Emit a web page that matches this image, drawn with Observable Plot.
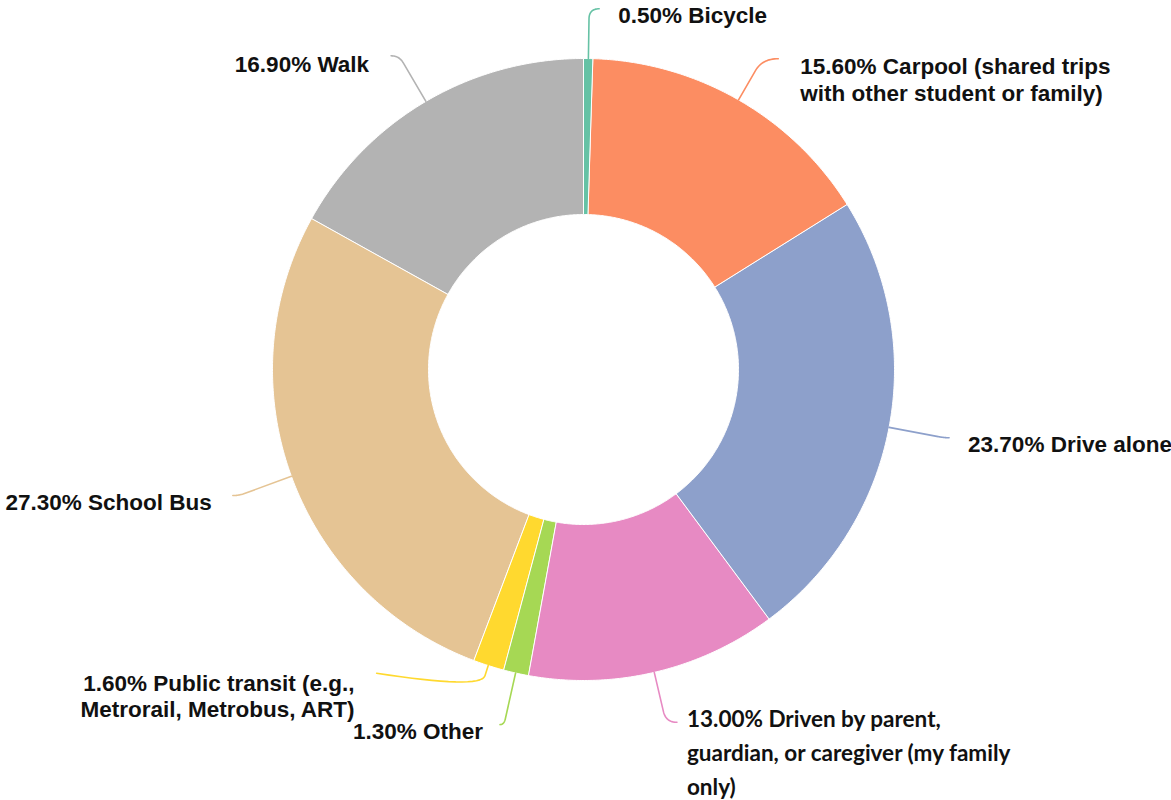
<!DOCTYPE html>
<html>
<head>
<meta charset="utf-8">
<script src="https://cdn.jsdelivr.net/npm/d3@7"></script>
<script src="https://cdn.jsdelivr.net/npm/@observablehq/plot@0.6"></script>
<style>
  html, body { margin: 0; padding: 0; background: #fff; }
  #chart svg { display: block; }
</style>
</head>
<body>
<div id="chart"></div>
<script>
// ---- data ----
const modes = ["Bicycle", "Carpool", "Drive alone", "Driven by parent", "Other", "Public transit", "School Bus", "Walk"];
const shares = [0.5, 15.6, 23.7, 13.0, 1.3, 1.6, 27.3, 16.9];
const labelText = [
  "0.50% Bicycle",
  "15.60% Carpool (shared trips\nwith other student or family)",
  "23.70% Drive alone",
  "13.00% Driven by parent,\nguardian, or caregiver (my family\nonly)",
  "1.30% Other",
  "1.60% Public transit (e.g.,\nMetrorail, Metrobus, ART)",
  "27.30% School Bus",
  "16.90% Walk"
];
const colors = ["#66c2a5", "#fc8d62", "#8da0cb", "#e78ac3", "#a6d854", "#ffd92f", "#e5c494", "#b3b3b3"];

// ---- layout ----
const W = 1171, H = 800;
const CX = 583, CY = 369, R = 311, R0 = 155;
const SANS = "Liberation Sans, Arial, Helvetica, sans-serif";
// leader layout: elbow radius factor, hook dx/dy, label gap, label y offset, font settings
const leaderLayout = [
  {er: 1.16,  hx: 10,   hy: 0,   gap: 19,  ly: 6,  font: SANS, fs: 22.5, lh: 27},
  {er: 1.153, hx: 16,   hy: 0,   gap: 22,  ly: 7,  font: SANS, fs: 22.5, lh: 27},
  {er: 1.18,  hx: 5,    hy: 0,   gap: 19,  ly: 6,  font: SANS, fs: 22.5, lh: 27},
  {er: 1.165, hx: 11,   hy: 0,   gap: 10,  ly: -6, font: "Lato, sans-serif", fs: 22.5, lh: 34},
  {er: 1.17,  hx: -4,   hy: 0,   gap: -17, ly: 6,  font: SANS, fs: 22.5, lh: 27},
  {er: 1.08,  hx: -104, hy: -16, gap: -22, ly: 9,  font: SANS, fs: 22.5, lh: 26},
  {er: 1.18,  hx: -6,   hy: 0,   gap: -21, ly: 6,  font: SANS, fs: 22.5, lh: 27},
  {er: 1.17,  hx: -8,   hy: 0,   gap: -22, ly: 8,  font: SANS, fs: 22.5, lh: 27}
];

const total = d3.sum(shares);
const pol = (a, r) => [CX + r * Math.sin(a), CY - r * Math.cos(a)];

// build slices from data
let acc = 0;
const slices = shares.map((v, i) => {
  const a0 = acc / total * 2 * Math.PI;
  acc += v;
  const a1 = acc / total * 2 * Math.PI;
  return {i, mode: modes[i], a0, a1, mid: (a0 + a1) / 2, color: colors[i]};
});

// wedge polygon points
const wedgePts = [];
for (const s of slices) {
  const n = Math.max(2, Math.ceil((s.a1 - s.a0) / (Math.PI / 360)));
  for (let k = 0; k <= n; k++) {
    const a = s.a0 + (s.a1 - s.a0) * k / n;
    const [x, y] = pol(a, R);
    wedgePts.push({mode: s.mode, x, y, color: s.color});
  }
  for (let k = n; k >= 0; k--) {
    const a = s.a0 + (s.a1 - s.a0) * k / n;
    const [x, y] = pol(a, R0);
    wedgePts.push({mode: s.mode, x, y, color: s.color});
  }
}

// leader lines (radial segment + rounded bend) and label anchors
const leaderPts = [];
const labels = [];
for (const s of slices) {
  const L = leaderLayout[s.i];
  const A = pol(s.mid, R);
  const E = pol(s.mid, R * L.er);
  const C = [E[0] + L.hx, E[1] + L.hy];
  const dA = Math.hypot(A[0] - E[0], A[1] - E[1]);
  const dC = Math.hypot(C[0] - E[0], C[1] - E[1]);
  const rad = Math.min(dA * 0.6, Math.max(dC, 6), 14);
  const P = [E[0] + (A[0] - E[0]) / dA * rad, E[1] + (A[1] - E[1]) / dA * rad];
  leaderPts.push({mode: s.mode, x: A[0], y: A[1], color: s.color});
  const m = 16;
  for (let k = 0; k <= m; k++) {
    const t = k / m, u = 1 - t;
    const x = u * u * P[0] + 2 * u * t * E[0] + t * t * C[0];
    const y = u * u * P[1] + 2 * u * t * E[1] + t * t * C[1];
    leaderPts.push({mode: s.mode, x, y, color: s.color});
  }
  const nLines = labelText[s.i].split("\n").length;
  labels.push({
    i: s.i,
    text: labelText[s.i],
    x: C[0] + L.gap,
    y: C[1] + L.ly + (nLines - 1) * L.lh / 2,
    anchor: L.gap >= 0 ? "start" : "end"
  });
}

const textMarks = labels.map(l => {
  const L = leaderLayout[l.i];
  return Plot.text([l], {
    x: "x", y: "y", text: "text",
    textAnchor: l.anchor,
    lineAnchor: "middle",
    lineHeight: L.lh / L.fs,
    fontSize: L.fs,
    fontWeight: "bold",
    fontFamily: L.font,
    fill: "#111"
  });
});

const chart = Plot.plot({
  width: W,
  height: H,
  margin: 0,
  x: {domain: [0, W], range: [0, W], axis: null},
  y: {domain: [0, H], range: [0, H], axis: null},
  style: {background: "#fff", overflow: "visible"},
  marks: [
    Plot.line(wedgePts, {x: "x", y: "y", z: "mode", fill: "color", stroke: "#fff", strokeWidth: 1, curve: "linear-closed"}),
    Plot.line(leaderPts, {x: "x", y: "y", z: "mode", stroke: "color", strokeWidth: 1.6, curve: "linear"}),
    ...textMarks
  ]
});
document.getElementById("chart").appendChild(chart);
</script>
</body>
</html>
